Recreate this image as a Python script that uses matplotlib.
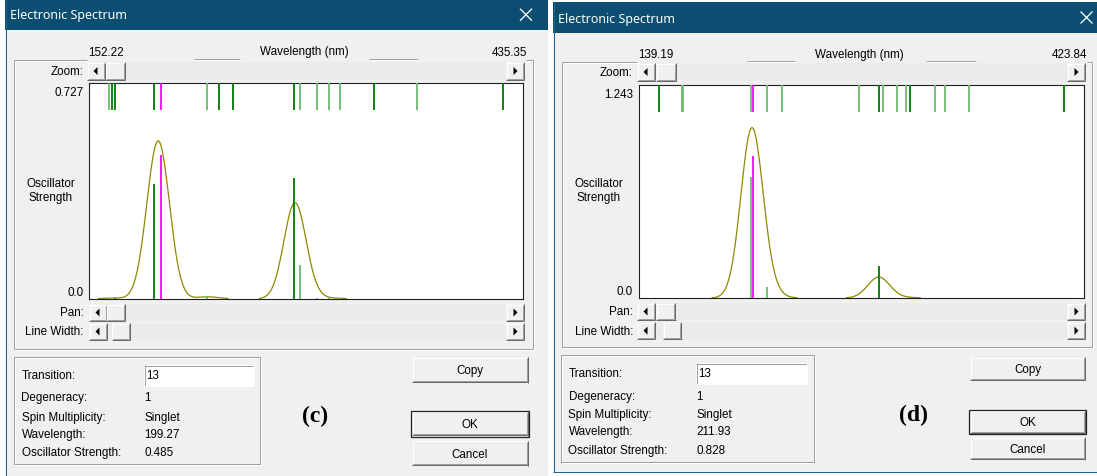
import numpy as np
import matplotlib.pyplot as plt
from matplotlib.patches import Rectangle, Polygon

W, H = 1097, 477

# --- transitions, window (c) ---
c_range = (152.22, 435.35)
c_fmax = 0.727
c_wl = [165.29, 167.44, 169.01, 194.89, 199.27, 229.32, 236.97, 245.85,
        285.71, 290.09, 301.00, 309.04, 316.22, 338.24, 366.34, 422.27]
c_f = [0.002, 0.001, 0.002, 0.388, 0.485, 0.011, 0.001, 0.0,
       0.407, 0.116, 0.003, 0.002, 0.002, 0.0, 0.0, 0.0]
c_sel = 4
c_info = ["13", "1", "Singlet", "199.27", "0.485"]

# --- transitions, window (d) ---
d_range = (139.19, 423.84)
d_fmax = 1.243
d_wl = [152.14, 166.44, 167.46, 210.66, 211.93, 221.31, 230.89, 280.21, 292.53,
        295.33, 304.27, 310.20, 312.31, 328.51, 335.09, 350.40, 411.21]
d_f = [0.0, 0.0, 0.0, 0.708, 0.828, 0.065, 0.001, 0.0, 0.189,
       0.002, 0.001, 0.002, 0.002, 0.0, 0.0, 0.0, 0.0]
d_sel = 4
d_info = ["13", "1", "Singlet", "211.93", "0.828"]

info_labels = ["Transition:", "Degeneracy:", "Spin Multiplicity:", "Wavelength:", "Oscillator Strength:"]

# stick shading (d = dark green, l = light green)
c_shade = "lddddldddlllldld"
d_shade = "dllllllldllldllld"

UI = ['Liberation Sans', 'DejaVu Sans']
FS = 8.4
BODY = '#f0f0f0'
TITLE = '#0c4e71'
BORDER = '#1f6690'

fig = plt.figure(figsize=(W / 100, H / 100), dpi=100)
fig.patch.set_facecolor('white')
bg = fig.add_axes([0, 0, 1, 1])
bg.set_xlim(0, W)
bg.set_ylim(H, 0)
bg.axis('off')


def rect(x0, y0, x1, y1, fc, ec='none', lw=0, z=1):
    bg.add_patch(Rectangle((x0, y0), x1 - x0, y1 - y0, fc=fc, ec=ec, lw=lw, zorder=z))


def line(xs, ys, c, lw=1, z=3):
    bg.plot(xs, ys, color=c, lw=lw * 0.72, zorder=z, solid_capstyle='butt')


def txt(x, y, s, ha='left', size=FS, color='black', **kw):
    kw.setdefault('family', UI)
    bg.text(x, y, s, ha=ha, va='center', fontsize=size, color=color, zorder=5, **kw)


def bevel(x0, y0, x1, y1, sunken=False, face=BODY, default=False):
    rect(x0, y0, x1, y1, face, z=2)
    if sunken:
        line([x0, x1], [y0 + .5, y0 + .5], '#a0a0a0')
        line([x0 + .5, x0 + .5], [y0, y1], '#a0a0a0')
        line([x0, x1], [y1 - .5, y1 - .5], 'white')
        line([x1 - .5, x1 - .5], [y0, y1], 'white')
    else:
        line([x0, x1], [y0 + .5, y0 + .5], 'white')
        line([x0 + .5, x0 + .5], [y0, y1], 'white')
        line([x0, x1], [y1 - .5, y1 - .5], '#696969')
        line([x1 - .5, x1 - .5], [y0, y1], '#696969')
        line([x0 + 1, x1 - 1], [y1 - 1.5, y1 - 1.5], '#a0a0a0')
        line([x1 - 1.5, x1 - 1.5], [y0 + 1, y1 - 1], '#a0a0a0')
    if default:
        rect(x0 - 1, y0 - 1, x1 + 1, y1 + 1, 'none', ec='#202020', lw=0.9, z=4)


def scrollbar(x0, x1, y0, y1, t0, t1):
    rect(x0, y0, x1, y1, '#ebebeb', z=2)
    bevel(x0, y0, x0 + 18, y1)
    bevel(x1 - 18, y0, x1, y1)
    bevel(t0, y0, t1, y1)
    cy = (y0 + y1) / 2
    cx = x0 + 9
    bg.add_patch(Polygon([(cx - 2.5, cy), (cx + 1.5, cy - 4), (cx + 1.5, cy + 4)], fc='black', zorder=5))
    cx = x1 - 9
    bg.add_patch(Polygon([(cx + 2.5, cy), (cx - 1.5, cy - 4), (cx - 1.5, cy + 4)], fc='black', zorder=5))


def etched(xs, ys):
    line(xs, ys, '#a0a0a0')
    line([v + 1 for v in xs], [v + 1 for v in ys], 'white', z=2.9)


def spectrum(box, lo, hi, fmax, wl, f, shade, sel):
    x0, y0, x1, y1 = box
    ax = fig.add_axes([x0 / W, 1 - y1 / H, (x1 - x0) / W, (y1 - y0) / H], zorder=3)
    ax.set_facecolor('white')
    ax.set_xlim(lo, hi)
    ax.set_ylim(0, fmax)
    ax.set_xticks([])
    ax.set_yticks([])
    for sp in ax.spines.values():
        sp.set_linestyle((0, (1, 1)))
        sp.set_linewidth(0.8)
        sp.set_color('#202020')
    # gaussian envelope of the stick spectrum
    grid = np.linspace(lo, hi, 900)
    wl_a, f_a = np.array(wl), np.array(f)
    env = 0.64 * (f_a[:, None] * np.exp(-(grid[None, :] - wl_a[:, None]) ** 2 / (2 * 7.0 ** 2))).sum(0)
    env = np.where(env > 0.0015, env, np.nan)
    ax.plot(grid, env, color='#8a8a00', lw=0.9, zorder=2)
    cols = ['#ff00ff' if i == sel else ('#007800' if s == 'd' else '#6cba6c')
            for i, s in enumerate(shade)]
    ax.vlines(wl, 0, f, colors=cols, lw=1.3, zorder=3)
    ax.vlines(wl, fmax * 0.875, fmax, colors=cols, lw=1.3, zorder=3)
    return ax


def window(wx0, wx1, wy0, wy1, bottom_edge, s):
    rect(wx0, wy0, wx1, wy1, BODY, z=0.5)
    rect(wx0, wy0, wx1, wy0 + 30.5, TITLE, z=1)
    line([wx0 + .5, wx0 + .5], [wy0, wy1], BORDER)
    if bottom_edge:
        line([wx0, wx1], [wy1 - .5, wy1 - .5], BORDER)
    txt(wx0 + 5, wy0 + 16, "Electronic Spectrum", size=9, color='white', family=['Noto Sans', 'DejaVu Sans'])
    cx, cy = s['close']
    line([cx - 6, cx + 6], [cy - 6, cy + 6], 'white', lw=1.3, z=5)
    line([cx - 6, cx + 6], [cy + 6, cy - 6], 'white', lw=1.3, z=5)


def dialog(s, info):
    fx0, fy0, fx1, fy1 = s['frame']
    px0, py0, px1, py1 = s['plot']
    hy = s['head_y']
    txt(px0 - 1, hy, s['lo_txt'])
    txt(s['head_mid'], hy, "Wavelength (nm)", ha='center')
    txt(s['head_right'], hy, s['hi_txt'], ha='right')
    for a, b in s['seps']:
        etched([a, b], [fy0 - 1, fy0 - 1])
    etched([fx0, s['zoom'][0]], [fy0, fy0])
    etched([s['zoom'][1] + 2, fx1], [fy0, fy0])
    etched([fx0, fx0], [fy0, fy1])
    etched([fx1, fx1], [fy0, fy1])
    etched([fx0, fx1], [fy1, fy1])
    lx = s['lab_x']
    for name, (a, b, t0, t1, y0, y1) in zip(["Zoom:", "Pan:", "Line Width:"], s['bars']):
        scrollbar(a, b, y0, y1, t0, t1)
        txt(lx, (y0 + y1) / 2, name, ha='right')
    txt(lx, s['ytop_y'], s['ytop'], ha='right')
    txt(lx, s['y0_y'], "0.0", ha='right')
    txt(s['osc_x'], s['osc_y'], "Oscillator", ha='center')
    txt(s['osc_x'], s['osc_y'] + 14.5, "Strength", ha='center')
    ix0, iy0, ix1, iy1 = s['info']
    rect(ix0, iy0, ix1, iy1, 'none', ec='#a0a0a0', lw=0.72, z=3)
    rect(ix0 + 1, iy0 + 1, ix1 + 1, iy1 + 1, 'none', ec='white', lw=0.72, z=2.9)
    vx = s['val_x']
    for name, val, y in zip(info_labels, info, s['rows']):
        txt(ix0 + 7.5, y, name)
        if name == "Transition:":
            ex0, ey0, ex1, ey1 = s['edit']
            bevel(ex0, ey0, ex1, ey1, sunken=True, face='white')
            txt(vx + 2, y, val)
        else:
            txt(vx, y, val)
    bx0, bx1 = s['btn_x']
    for name, (y0, y1) in zip(["Copy", "OK", "Cancel"], s['btn_y']):
        bevel(bx0, y0, bx1, y1, default=(name == "OK"))
        txt((bx0 + bx1) / 2, (y0 + y1) / 2 + 0.5, name, ha='center')
    bg.text(s['tag'][0], s['tag'][1], s['tag_txt'], ha='center', va='center', fontsize=17,
            fontweight='bold', family=['Liberation Serif', 'DejaVu Serif'], zorder=5)


window(5, 548, 0, H + 2, False, {'close': (526, 15.7)})
window(553, W + 2, 3, 473, True, {'close': (1086.5, 18.5)})

c_layout = {
    'frame': (14, 61, 533, 350), 'plot': (89, 84, 523, 300),
    'head_y': 52.5, 'head_mid': 304, 'head_right': 527, 'lo_txt': "152.22", 'hi_txt': "435.35",
    'seps': [(194, 240), (369, 418)], 'zoom': (87, 524),
    'bars': [(87, 524, 105, 125, 63, 81), (89, 524, 106, 125, 305, 322), (89, 524, 111.5, 130, 324, 341)],
    'lab_x': 83.6, 'ytop': "0.727", 'ytop_y': 93, 'y0_y': 292.7, 'osc_x': 50.5, 'osc_y': 184,
    'info': (14, 358.3, 259.6, 465), 'val_x': 144.6, 'edit': (144, 366, 254, 387),
    'rows': [376, 398.3, 417.7, 435, 453.3],
    'btn_x': (412, 528), 'btn_y': [(358, 383.5), (412.7, 436.7), (441.7, 466.7)],
    'tag': (315, 416), 'tag_txt': "(c)",
}
d_layout = {
    'frame': (561.5, 63, 1092, 348), 'plot': (639, 86, 1084, 299),
    'head_y': 55, 'head_mid': 859, 'head_right': 1087.5, 'lo_txt': "139.19", 'hi_txt': "423.84",
    'seps': [(747, 794.5), (925.6, 976)], 'zoom': (637, 1085),
    'bars': [(637, 1085, 656, 676, 64, 82), (637, 1085, 656, 675.6, 304, 321), (637, 1085, 663.4, 681.6, 323.3, 340)],
    'lab_x': 633, 'ytop': "1.243", 'ytop_y': 95, 'y0_y': 292, 'osc_x': 598.7, 'osc_y': 184,
    'info': (561, 355.7, 814, 462.7), 'val_x': 696.6, 'edit': (696, 364, 807.4, 385),
    'rows': [374, 397.3, 415, 431.7, 450.7],
    'btn_x': (970, 1085), 'btn_y': [(358, 381), (411.7, 434.3), (438, 460.7)],
    'tag': (914, 415), 'tag_txt': "(d)",
}

dialog(c_layout, c_info)
dialog(d_layout, d_info)

spectrum(c_layout['plot'], *c_range, c_fmax, c_wl, c_f, c_shade, c_sel)
spectrum(d_layout['plot'], *d_range, d_fmax, d_wl, d_f, d_shade, d_sel)

fig.savefig('out.png', dpi=100)
